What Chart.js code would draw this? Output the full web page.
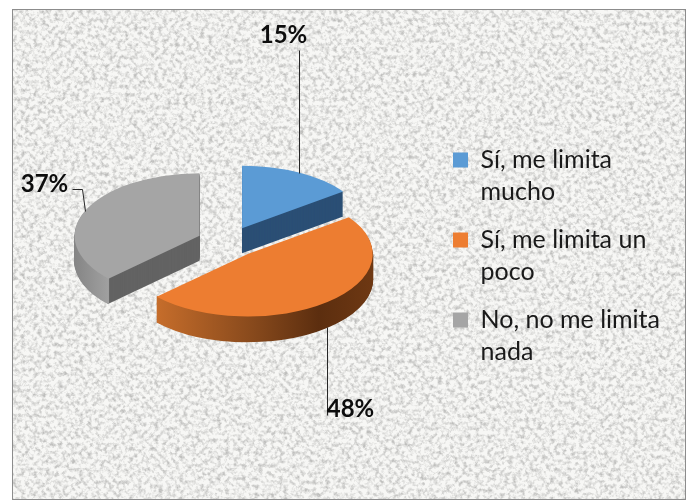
<!DOCTYPE html>
<html lang="es">
<head>
<meta charset="utf-8">
<title>Limitación</title>
<script src="https://cdn.jsdelivr.net/npm/chart.js@4/dist/chart.umd.min.js"></script>
<style>
  html, body { margin: 0; padding: 0; background: #fff; }
  #wrap { position: relative; width: 689px; height: 502px; overflow: hidden; }
  #paper {
    position: absolute; left: 12px; top: 9px; width: 672px; height: 489px;
    border: 1.5px solid #8c8c8c; background-color: #f7f7f5;
    background-image: url("data:image/svg+xml,%3Csvg xmlns='http://www.w3.org/2000/svg' width='672' height='489'%3E%3Cfilter id='n' x='0' y='0' width='100%25' height='100%25'%3E%3CfeTurbulence type='fractalNoise' baseFrequency='0.24' numOctaves='3' seed='7'/%3E%3CfeColorMatrix values='0 0 0 0 0.52 0 0 0 0 0.52 0 0 0 0 0.51 2.5 0 0 0 -1.05'/%3E%3CfeGaussianBlur stdDeviation='0.6'/%3E%3C/filter%3E%3Crect width='672' height='489' filter='url(%23n)'/%3E%3C/svg%3E");
  }
  canvas { position: absolute; left: 0; top: 0; }
</style>
</head>
<body>
<div id="wrap">
  <div id="paper"></div>
  <canvas id="pieChart" width="689" height="502"></canvas>
</div>
<script>
const labels = [['Sí, me limita', 'mucho'], ['Sí, me limita un', 'poco'], ['No, no me limita', 'nada']];
const values = [15, 48, 37];
const colors = ['#5b9bd5', '#ed7d31', '#a5a5a5'];

// aspecto del pastel 3D
const pie3d = { x: 228, y: 242, squash: 0.5, depth: 25, explode: 31 };
const faceColors = ['#2b4f75', '#5e2f10', '#636363'];
const rimStops = [
  [[0, '#2b4f75'], [1, '#2b4f75']],
  [[0, '#c66d2b'], [0.45, '#87491c'], [0.75, '#5c2e0f'], [1, '#6e3813']],
  [[0, '#858585'], [1, '#a0a0a0']]
];
// recorrido de las lineas guia y posicion del texto, relativo al punto medio del borde
const leaders = [
  { path: [[0, -123]], text: [-16, -15], wall: false },
  { path: [[0, 88]], text: [23, -6], wall: true },
  { path: [[-3, -22], [-13, -22]], text: [-28, -5], wall: false }
];

// lleva la porcion a su sitio: elipse y separacion del centro
function placeArc(ctx, arc, extraY) {
  const mid = (arc.startAngle + arc.endAngle) / 2;
  ctx.translate(pie3d.x, pie3d.y + extraY);
  ctx.scale(1, pie3d.squash);
  ctx.translate(Math.cos(mid) * pie3d.explode - arc.x, Math.sin(mid) * pie3d.explode - arc.y);
}

const pie3dPlugin = {
  id: 'pie3d',
  beforeDatasetDraw(chart) {
    const ctx = chart.ctx;
    const arcs = chart.getDatasetMeta(0).data;
    // caras de corte
    arcs.forEach((arc, i) => {
      ctx.fillStyle = faceColors[i];
      for (let d = pie3d.depth; d >= 1; d--) {
        ctx.save();
        placeArc(ctx, arc, d);
        ctx.beginPath();
        ctx.moveTo(arc.x, arc.y);
        ctx.arc(arc.x, arc.y, arc.outerRadius, arc.startAngle, arc.endAngle);
        ctx.closePath();
        ctx.restore();
        ctx.fill();
      }
    });
    // borde curvo frontal
    arcs.forEach((arc, i) => {
      const a0 = Math.max(arc.startAngle, 0);
      const a1 = Math.min(arc.endAngle, Math.PI);
      if (a1 <= a0) return;
      const mid = (arc.startAngle + arc.endAngle) / 2;
      const ox = pie3d.x + Math.cos(mid) * pie3d.explode;
      const xs = [a0, a1].map(a => ox + Math.cos(a) * arc.outerRadius);
      if (a0 <= 0) xs.push(ox + arc.outerRadius);
      const grad = ctx.createLinearGradient(Math.min(...xs), 0, Math.max(...xs), 0);
      rimStops[i].forEach(s => grad.addColorStop(s[0], s[1]));
      ctx.strokeStyle = grad;
      ctx.lineWidth = 2;
      for (let d = pie3d.depth; d >= 0; d--) {
        ctx.save();
        placeArc(ctx, arc, d);
        ctx.beginPath();
        ctx.arc(arc.x, arc.y, arc.outerRadius - 0.5, a0, a1);
        ctx.restore();
        ctx.stroke();
      }
    });
    // caras superiores, con los propios elementos de Chart.js
    arcs.forEach(arc => {
      ctx.save();
      placeArc(ctx, arc, 0);
      arc.draw(ctx);
      ctx.restore();
    });
    return false;
  },
  afterDraw(chart) {
    const ctx = chart.ctx;
    const arcs = chart.getDatasetMeta(0).data;
    ctx.save();
    ctx.strokeStyle = '#262626';
    ctx.lineWidth = 1;
    ctx.fillStyle = '#0d0d0d';
    ctx.font = 'bold 24px Lato';
    ctx.textAlign = 'center';
    ctx.textBaseline = 'middle';
    arcs.forEach((arc, i) => {
      const lead = leaders[i];
      const mid = (arc.startAngle + arc.endAngle) / 2;
      const reach = pie3d.explode + arc.outerRadius;
      const ax = Math.round(pie3d.x + Math.cos(mid) * reach) + 0.5;
      const ay = Math.round(pie3d.y + Math.sin(mid) * reach * pie3d.squash + (lead.wall ? pie3d.depth : 0)) + 0.5;
      ctx.beginPath();
      ctx.moveTo(ax, ay);
      let last = [0, 0];
      lead.path.forEach(p => { ctx.lineTo(ax + p[0], ay + p[1]); last = p; });
      ctx.stroke();
      ctx.fillText(values[i] + '%', ax + last[0] + lead.text[0], ay + last[1] + lead.text[1]);
    });
    ctx.restore();
  }
};

new Chart(document.getElementById('pieChart').getContext('2d'), {
  type: 'pie',
  plugins: [pie3dPlugin],
  data: {
    labels: labels,
    datasets: [{
      data: values,
      backgroundColor: colors,
      borderWidth: 0
    }]
  },
  options: {
    responsive: false,
    animation: false,
    radius: 125,
    rotation: 0,
    layout: { padding: { right: 19, top: 17, bottom: 0 } },
    plugins: {
      tooltip: { enabled: false },
      legend: {
        position: 'right',
        labels: {
          usePointStyle: true,
          pointStyle: 'rect',
          boxWidth: 15,
          boxHeight: 15,
          padding: 16,
          color: '#1a1a1a',
          font: { family: 'Lato', size: 25, lineHeight: 32 / 25 }
        }
      }
    }
  }
});
</script>
</body>
</html>
